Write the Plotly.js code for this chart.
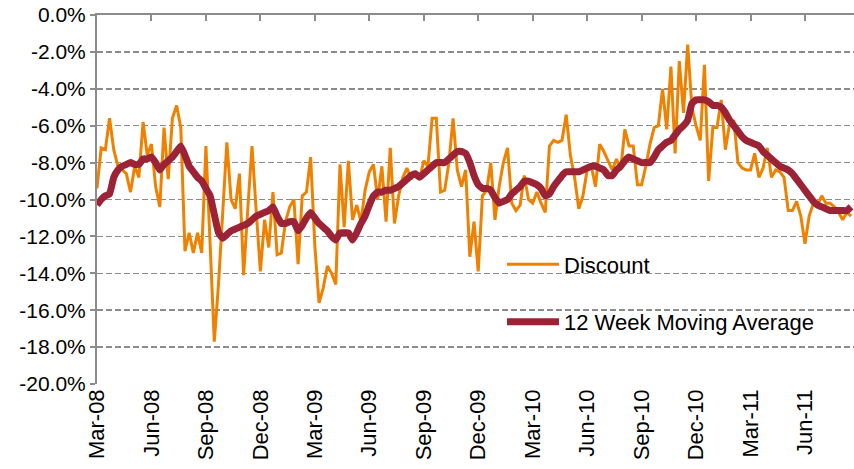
<!DOCTYPE html>
<html>
<head>
<meta charset="utf-8">
<script src="https://cdn.plot.ly/plotly-3.0.1.min.js"></script>
<style>html,body{margin:0;padding:0;background:#fff;}#chart{width:854px;height:469px;}</style>
</head>
<body>
<div id="chart"></div>
<script>
// Weekly data, first week labelled Mar-08
const startDate = '2008-03-07';
const discount = [
-9.4,-7.2,-7.3,-5.6,-7.3,-8.2,-8.4,-8.6,-9.6,-8.2,
-8.8,-5.8,-7.6,-7.0,-9.3,-10.4,-6.1,-8.9,-5.6,-4.9,
-6.1,-12.8,-11.8,-12.9,-11.8,-12.9,-7.1,-12.0,-17.7,-14.6,
-10.5,-6.9,-10.0,-10.5,-8.6,-14.1,-10.5,-7.1,-10.6,-13.9,
-11.1,-12.6,-9.6,-13.0,-12.9,-11.2,-10.4,-10.0,-13.5,-9.8,
-9.6,-7.7,-12.5,-15.6,-14.8,-13.6,-14.0,-14.6,-8.1,-11.5,
-7.9,-11.1,-10.3,-11.2,-9.5,-8.5,-8.1,-10.0,-8.2,-11.2,
-7.2,-11.3,-9.8,-8.8,-8.3,-8.9,-8.5,-8.9,-7.9,-8.2,
-5.6,-5.6,-9.6,-9.5,-8.0,-5.6,-8.4,-9.3,-8.4,-13.1,
-11.2,-13.9,-9.8,-9.5,-8.0,-11.1,-9.3,-8.0,-7.2,-10.2,
-10.6,-10.3,-8.7,-10.0,-10.2,-9.6,-10.2,-10.7,-7.1,-6.8,
-6.9,-6.8,-5.4,-7.6,-8.8,-10.5,-9.8,-8.4,-8.2,-9.3,
-7.0,-7.4,-7.9,-8.4,-7.8,-8.4,-6.2,-7.1,-7.1,-9.2,
-9.2,-8.2,-7.0,-6.1,-6.0,-4.0,-6.2,-2.8,-7.5,-2.5,
-5.3,-1.6,-5.0,-6.0,-6.8,-2.7,-9.0,-6.1,-6.1,-4.6,
-7.3,-5.9,-5.7,-8.0,-8.3,-8.4,-8.4,-7.5,-8.8,-8.3,
-7.2,-8.8,-8.4,-8.5,-8.8,-10.6,-10.6,-10.1,-10.9,-12.4,
-10.9,-10.2,-10.3,-9.8,-10.2,-10.2,-10.4,-10.7,-11.1,-10.7,
-10.9
];
const movingAvg = [
-10.3,-10.0,-9.8,-9.7,-8.8,-8.4,-8.2,-8.1,-8.0,-8.1,
-8.1,-7.8,-7.8,-7.7,-8.0,-8.4,-8.1,-7.9,-7.7,-7.4,
-7.1,-7.6,-8.2,-8.5,-8.8,-9.0,-9.4,-9.8,-10.8,-11.8,
-12.1,-11.9,-11.7,-11.6,-11.5,-11.4,-11.3,-11.1,-10.9,-10.8,
-10.7,-10.6,-10.4,-10.9,-11.3,-11.3,-11.2,-11.2,-11.7,-11.4,
-11.0,-10.7,-11.0,-11.3,-11.5,-11.7,-12.0,-12.2,-11.8,-11.8,
-11.8,-12.2,-11.8,-11.3,-10.9,-10.3,-9.8,-9.6,-9.6,-9.5,
-9.5,-9.4,-9.3,-9.1,-8.9,-8.7,-8.6,-8.8,-8.6,-8.4,
-8.2,-8.0,-8.0,-8.0,-7.8,-7.6,-7.4,-7.4,-7.5,-8.0,
-8.7,-9.2,-9.4,-9.4,-9.5,-9.9,-10.2,-10.1,-10.0,-9.7,
-9.5,-9.3,-9.0,-9.0,-9.1,-9.2,-9.4,-9.8,-9.7,-9.3,
-9.0,-8.7,-8.5,-8.5,-8.5,-8.5,-8.4,-8.3,-8.2,-8.2,
-8.3,-8.4,-8.7,-8.7,-8.4,-8.2,-7.9,-7.7,-7.8,-7.9,
-8.0,-8.0,-8.0,-7.7,-7.3,-7.1,-6.9,-6.8,-6.5,-6.2,
-6.0,-5.7,-4.8,-4.6,-4.6,-4.6,-4.7,-4.9,-4.9,-5.0,
-5.3,-5.7,-6.0,-6.3,-6.6,-6.8,-6.9,-7.0,-7.1,-7.4,
-7.6,-7.8,-8.0,-8.2,-8.3,-8.4,-8.6,-8.9,-9.2,-9.5,
-9.8,-10.1,-10.3,-10.4,-10.5,-10.6,-10.6,-10.6,-10.6,-10.6,
-10.4
];
const xTickLabels = ['Mar-08','Jun-08','Sep-08','Dec-08','Mar-09','Jun-09','Sep-09','Dec-09','Mar-10','Jun-10','Sep-10','Dec-10','Mar-11','Jun-11'];
const yTickValues = [0,-2,-4,-6,-8,-10,-12,-14,-16,-18,-20];
const yTickLabels = ['0.0%','-2.0%','-4.0%','-6.0%','-8.0%','-10.0%','-12.0%','-14.0%','-16.0%','-18.0%','-20.0%'];
const seriesNames = ['Discount','12 Week Moving Average'];

const DAY = 86400000;
const t0 = Date.parse(startDate + 'T00:00:00Z');
const iso = ms => new Date(ms).toISOString().slice(0,10);
const weeks = discount.map((_, i) => iso(t0 + i*7*DAY));
const tickVals = xTickLabels.map((_, i) => iso(t0 + i*13*7*DAY));
const xRange = [iso(t0), new Date(t0 + 180.7*7*DAY).toISOString()];

const FONT = 'Liberation Sans, Arial, sans-serif';
const GRID = '#8c8c8c';

const traces = [
  {x: weeks, y: discount, name: seriesNames[0], type: 'scatter', mode: 'lines',
   line: {color: '#F08000', width: 3}, legendgroup: 'a', xaxis: 'x', yaxis: 'y'},
  {x: weeks, y: movingAvg, name: seriesNames[1], type: 'scatter', mode: 'lines',
   line: {color: '#9B2335', width: 7, shape: 'spline', smoothing: 0.3}, legendgroup: 'b', xaxis: 'x2', yaxis: 'y'}
];

const layout = {
  width: 854, height: 469,
  margin: {l: 97, r: 0, t: 15, b: 85},
  paper_bgcolor: '#fff', plot_bgcolor: '#fff',
  font: {family: FONT, size: 22, color: '#000'},
  showlegend: true,
  legend: {x: 0.535, y: 0.381, xanchor: 'left', yanchor: 'top',
           bgcolor: 'rgba(0,0,0,0)', borderwidth: 0, itemwidth: 52,
           tracegroupgap: 26, traceorder: 'grouped',
           font: {family: FONT, size: 22, color: '#000'}},
  xaxis: {type: 'date', range: xRange, tickmode: 'array', tickvals: tickVals, ticktext: xTickLabels,
          tickangle: -90, showgrid: false, zeroline: false, showline: false, ticks: '',
          tickfont: {family: FONT, size: 22, color: '#000'}, fixedrange: true},
  xaxis2: {type: 'date', overlaying: 'x', matches: 'x', side: 'top', anchor: 'y',
           tickmode: 'array', tickvals: tickVals, showticklabels: false,
           ticks: 'inside', ticklen: 6, tickwidth: 2, tickcolor: GRID,
           showline: true, linecolor: GRID, linewidth: 2, showgrid: false, zeroline: false},
  yaxis: {range: [-20, 0], tickmode: 'array', tickvals: yTickValues, ticktext: yTickLabels,
          showgrid: true, gridcolor: GRID, gridwidth: 1.5, griddash: '6px,3px',
          zeroline: false, showline: true, linecolor: GRID, linewidth: 2,
          ticks: 'outside', ticklen: 5, tickwidth: 2, tickcolor: GRID,
          tickfont: {family: FONT, size: 21, color: '#000'}, fixedrange: true}
};

Plotly.newPlot('chart', traces, layout, {displayModeBar: false, staticPlot: true});
</script>
</body>
</html>
